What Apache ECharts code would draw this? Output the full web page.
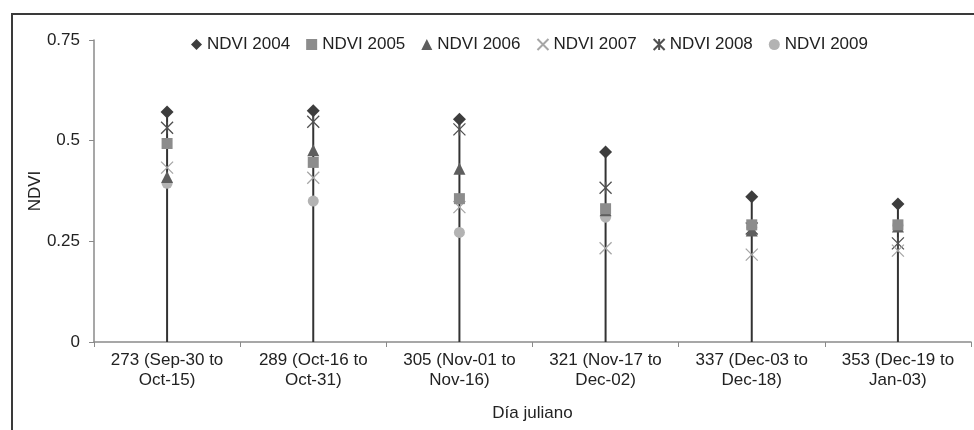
<!DOCTYPE html>
<html>
<head>
<meta charset="utf-8">
<script src="https://cdn.jsdelivr.net/npm/echarts@6/dist/echarts.min.js"></script>
<style>
html,body{margin:0;padding:0;background:#fff;}
#chart{width:974px;height:430px;}
</style>
</head>
<body>
<div id="chart"></div>
<script>
var categories = ['273 (Sep-30 to\nOct-15)', '289 (Oct-16 to\nOct-31)', '305 (Nov-01 to\nNov-16)', '321 (Nov-17 to\nDec-02)', '337 (Dec-03 to\nDec-18)', '353 (Dec-19 to\nJan-03)'];
var ndvi2004 = [0.571, 0.574, 0.553, 0.472, 0.361, 0.343];
var ndvi2005 = [0.493, 0.446, 0.356, 0.331, 0.291, 0.291];
var ndvi2006 = [0.410, 0.476, 0.430, 0.327, 0.277, 0.287];
var ndvi2007 = [0.433, 0.408, 0.335, 0.233, 0.217, 0.227];
var ndvi2008 = [0.532, 0.547, 0.528, 0.383, 0.282, 0.245];
var ndvi2009 = [0.394, 0.350, 0.272, 0.310, 0.285, 0.290];
var yTicks = [0, 0.25, 0.5, 0.75];

var allSeries = [ndvi2004, ndvi2005, ndvi2006, ndvi2007, ndvi2008, ndvi2009];
var stemValues = categories.map(function (c, i) {
  return Math.max.apply(null, allSeries.map(function (s) { return s[i]; }));
});

var FONT = 'Liberation Sans, Arial, sans-serif';
var FS = 17;
var xPath = 'path://M0,0L10,10M10,0L0,10';
var starPath = 'path://M0,0L10,10M10,0L0,10M5,0L5,10';

var chart = echarts.init(document.getElementById('chart'));
chart.setOption({
  animation: false,
  backgroundColor: '#fff',
  textStyle: { fontFamily: FONT },
  graphic: [
    { type: 'polyline', silent: true, z: 100,
      shape: { points: [[12, 430], [12, 14], [974, 14]] },
      style: { stroke: '#3a3a3a', lineWidth: 2, fill: null } }
  ],
  legend: {
    top: 31,
    left: 186,
    itemWidth: 11,
    itemHeight: 11,
    itemGap: 16,
    textStyle: { fontSize: FS, color: '#222', fontFamily: FONT },
    data: ['NDVI 2004', 'NDVI 2005', 'NDVI 2006', 'NDVI 2007', 'NDVI 2008', 'NDVI 2009']
  },
  grid: { left: 94, right: 3, top: 40, bottom: 88, containLabel: false },
  xAxis: {
    type: 'category',
    data: categories,
    name: 'Día juliano',
    nameLocation: 'middle',
    nameGap: 63,
    nameMoveOverlap: false,
    nameTextStyle: { fontSize: FS, color: '#222', fontFamily: FONT },
    axisLine: { lineStyle: { color: '#8a8a8a', width: 1.5 } },
    axisTick: { show: true, length: 5, lineStyle: { color: '#8a8a8a' } },
    axisLabel: { fontSize: FS, color: '#222', lineHeight: 20, margin: 8, interval: 0, fontFamily: FONT },
    splitLine: { show: false }
  },
  yAxis: {
    type: 'value',
    min: yTicks[0],
    max: yTicks[yTicks.length - 1],
    interval: 0.25,
    name: 'NDVI',
    nameLocation: 'middle',
    nameGap: 50,
    nameMoveOverlap: false,
    nameRotate: 90,
    nameTextStyle: { fontSize: FS, color: '#222', fontFamily: FONT },
    axisLine: { show: true, lineStyle: { color: '#8a8a8a', width: 1.5 } },
    axisTick: { show: true, length: 5, lineStyle: { color: '#8a8a8a' } },
    axisLabel: { fontSize: FS, color: '#222', margin: 14, fontFamily: FONT },
    splitLine: { show: false }
  },
  series: [
    { name: 'stems', type: 'bar', data: stemValues, barWidth: 2,
      itemStyle: { color: '#333' }, z: 1, silent: true, legendHoverLink: false },
    { name: 'NDVI 2004', type: 'scatter', data: ndvi2004, symbol: 'diamond', symbolSize: 13,
      itemStyle: { color: '#3d3d3d', opacity: 1 }, z: 16 },
    { name: 'NDVI 2005', type: 'scatter', data: ndvi2005, symbol: 'rect', symbolSize: 11,
      itemStyle: { color: '#8c8c8c', opacity: 1 }, z: 15 },
    { name: 'NDVI 2006', type: 'scatter', data: ndvi2006, symbol: 'triangle', symbolSize: 12,
      itemStyle: { color: '#5e5e5e', opacity: 1 }, z: 14 },
    { name: 'NDVI 2007', type: 'scatter', data: ndvi2007, symbol: xPath, symbolSize: 12,
      itemStyle: { color: 'rgba(0,0,0,0)', borderColor: '#a6a6a6', borderWidth: 1.3, opacity: 1 }, z: 13 },
    { name: 'NDVI 2008', type: 'scatter', data: ndvi2008, symbol: starPath, symbolSize: 12,
      itemStyle: { color: 'rgba(0,0,0,0)', borderColor: '#505050', borderWidth: 1.3, opacity: 1 }, z: 12 },
    { name: 'NDVI 2009', type: 'scatter', data: ndvi2009, symbol: 'circle', symbolSize: 11,
      itemStyle: { color: '#b3b3b3', opacity: 1 }, z: 11 }
  ]
});
</script>
</body>
</html>
